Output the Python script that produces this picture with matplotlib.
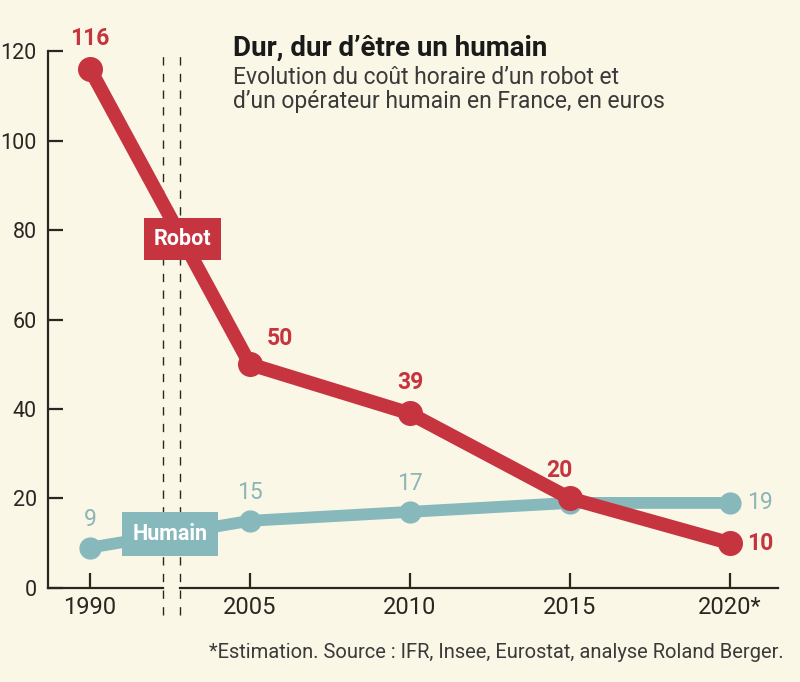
import matplotlib.pyplot as plt

years = ["1990", "2005", "2010", "2015", "2020*"]
robot = [116, 50, 39, 20, 10]
humain = [9, 15, 17, 19, 19]
yticks = [0, 20, 40, 60, 80, 100, 120]

red = "#c63440"
teal = "#86b8bc"
teal_txt = "#8db4b6"
ink = "#2a2622"
bg = "#fbf7e6"

plt.rcParams['font.family'] = ['Roboto', 'DejaVu Sans']

fig = plt.figure(figsize=(8, 6.82), dpi=100, facecolor=bg)
ax = fig.add_axes([0.06, 0.138, 0.9125, 0.80])
ax.set_facecolor(bg)

x = list(range(len(years)))
ax.plot(x, humain, color=teal, lw=8.5, solid_capstyle="round", zorder=2,
        marker="o", ms=15, mec=teal, mfc=teal)
ax.plot(x, robot, color=red, lw=10, solid_capstyle="round", zorder=3,
        marker="o", ms=17, mec=red, mfc=red)

ax.set_xlim(-0.2625, 4.3)
ax.set_ylim(0, 122)

# axe avec coupure
for s in ["top", "right", "bottom"]:
    ax.spines[s].set_visible(False)
ax.spines["left"].set_color(ink)
ax.spines["left"].set_linewidth(1.6)
ax.spines["left"].set_bounds(0, 120)
brk = [0.456, 0.56]
ax.plot([-0.2625, brk[0]], [0, 0], color=ink, lw=1.6, clip_on=False, zorder=4)
ax.plot([brk[1], 4.3], [0, 0], color=ink, lw=1.6, clip_on=False, zorder=4)
for b in brk:
    ax.plot([b, b], [-6, 120], color=ink, lw=1.0, ls=(0, (6, 6)),
            clip_on=False, zorder=1)

ax.set_yticks(yticks)
ax.set_yticklabels([str(v) for v in yticks], fontsize=15.5, color=ink)
ax.tick_params(axis="y", direction="in", length=11, width=1.6, color=ink, pad=8)
ax.set_xticks(x)
ax.set_xticklabels(years, fontsize=17, color=ink)
ax.tick_params(axis="x", direction="in", length=11, width=1.6, color=ink, pad=6)

# etiquettes de valeurs
roff = [(0, 14, "center"), (12, 10, "left"), (0, 14, "center"), (-8, 12, "center"), (12, 0, "left")]
for xi, v, (dx, dy, ha) in zip(x, robot, roff):
    ax.annotate(str(v), (xi, v), xytext=(dx, dy), textcoords="offset points",
                ha=ha, va="bottom" if dy > 0 else "center", fontsize=16.5,
                fontweight="bold", color=red, zorder=5)
hoff = [(0, 12, "center"), (0, 12, "center"), (0, 12, "center"), (0, 12, "center"), (12, 0, "left")]
for xi, v, (dx, dy, ha) in zip(x, humain, hoff):
    if xi == 3:
        continue
    ax.annotate(str(v), (xi, v), xytext=(dx, dy), textcoords="offset points",
                ha=ha, va="bottom" if dy > 0 else "center", fontsize=16.5,
                color=teal_txt, zorder=5)

# noms des series
ax.text(0.58, 78, "Robot", ha="center", va="center", fontsize=15.5,
        fontweight="bold", color="white", zorder=6,
        bbox=dict(boxstyle="square,pad=0.45", fc=red, ec="none"))
ax.text(0.5, 12, "Humain", ha="center", va="center", fontsize=15.5,
        fontweight="bold", color="white", zorder=6,
        bbox=dict(boxstyle="square,pad=0.5", fc=teal, ec="none"))

fig.text(0.291, 0.918, "Dur, dur d\u2019être un humain", fontsize=20,
         fontweight="bold", color="#1a1a1a", va="baseline")
fig.text(0.291, 0.903, "Evolution du coût horaire d\u2019un robot et\n"
         "d\u2019un opérateur humain en France, en euros",
         fontsize=16.5, color="#3a3a3a", va="top", linespacing=1.05)
fig.text(0.98, 0.035, "*Estimation. Source : IFR, Insee, Eurostat, analyse Roland Berger.",
         fontsize=14.5, color="#3a3a3a", ha="right", va="baseline")

fig.savefig("out.png", dpi=100, facecolor=bg)
